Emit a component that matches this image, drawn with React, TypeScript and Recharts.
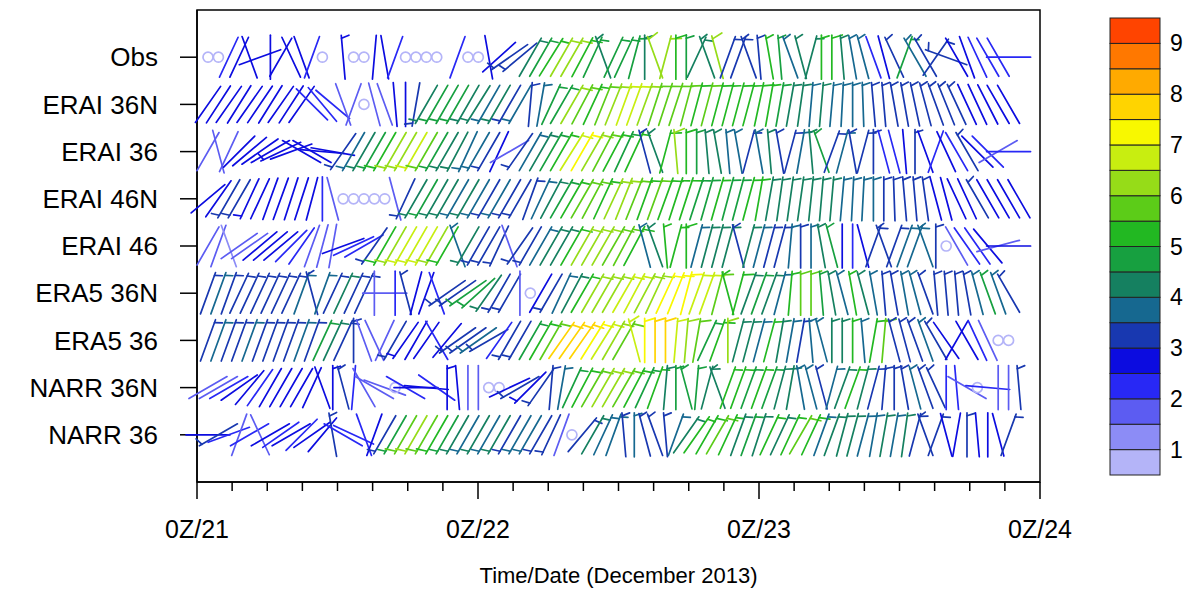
import React from 'react';
import { ScatterChart, Scatter, XAxis, YAxis, ReferenceArea } from 'recharts';

type B = [number, number] | null; // [direction wind comes from (deg), speed]; speed 0 = calm

const ROW_LABELS = ['Obs', 'ERAI 36N', 'ERAI 36', 'ERAI 46N', 'ERAI 46', 'ERA5 36N', 'ERA5 36', 'NARR 36N', 'NARR 36'];
const ROW_VALUES = [9, 8, 7, 6, 5, 4, 3, 2, 1];
const X_TICKS = [0, 24, 48, 72];
const X_LABELS = ['0Z/21', '0Z/22', '0Z/23', '0Z/24'];
const MINOR_TICKS = [0, 3, 6, 9, 12, 15, 18, 21, 24, 27, 30, 33, 36, 39, 42, 45, 48, 51, 54, 57, 60, 63, 66, 69, 72];
const LEVELS = [1, 1.5, 2, 2.5, 3, 3.5, 4, 4.5, 5, 5.5, 6, 6.5, 7, 7.5, 8, 8.5, 9];
const COLORS = ['#b4b4f8', '#8c8cf6', '#5c5cf2', '#2828f5', '#0c0ce0', '#1838b0', '#166890', '#158060', '#17a040', '#22b822', '#5ccc18', '#96dc18', '#c8ee10', '#f8f800', '#ffd400', '#ffaa00', '#ff7800', '#ff4400'];
const START_HOUR = 0.94;
const STEP_HOUR = 0.888;

const OBS: B[] = [
  [0,0],[0,0],[205,2.2],[25,2.8],[340,2.8],[250,2.6],[0,2.7],[210,2.8],[335,2.7],[340,2.5],
  [200,2.0],[0,0],null,[355,2.9],[0,0],[0,0],[5,2.8],[170,2.5],[20,2.0],[0,0],
  [0,0],[0,0],[0,0],null,[200,2.3],[0,0],[0,0],[350,2.5],[228,2.8],[235,3.0],
  [230,3.2],[30,4.2],[30,4.5],[32,5.0],[30,6.2],[30,6.0],[28,5.2],[25,4.8],[340,4.3],[25,4.5],
  [25,4.7],[15,4.5],[0,4.2],[340,6.2],[15,6.0],[0,5.3],[0,4.6],[25,4.3],[340,4.0],[345,6.3],
  [20,3.0],[20,3.3],[340,3.0],[355,3.2],[350,5.0],[355,4.5],[340,3.5],[345,4.0],[15,4.4],[0,5.0],
  [0,5.3],[355,4.2],[350,3.5],[345,3.6],[340,2.3],[345,2.5],[335,3.0],[20,4.5],[330,3.5],[330,3.3],
  [35,3.2],[290,3.0],[330,2.5],[340,2.5],[335,2.2],[330,2.0],[330,2.0],[270,2.3],null,null,
];
const ERAI_36N: B[] = [
  [215,2.6],[213,2.7],[215,2.6],[212,2.7],[215,2.8],[214,2.7],[212,2.6],[215,2.7],[213,2.6],[215,2.7],
  [315,2.3],[320,2.2],[310,2.0],[340,1.9],[200,1.6],[0,0],[345,1.8],[340,1.7],[355,2.5],[0,2.7],
  [190,3.2],[210,4.0],[210,4.8],[210,4.5],[210,4.8],[210,4.3],[212,4.0],[210,3.8],[210,4.0],[210,3.2],
  [210,3.9],[5,3.3],[10,3.8],[25,4.6],[30,4.5],[30,6.2],[28,5.5],[25,5.0],[22,5.5],[22,6.0],
  [20,6.8],[20,6.5],[20,6.0],[18,5.6],[18,5.6],[18,5.8],[15,5.5],[15,5.3],[15,5.5],[15,5.2],
  [15,5.0],[15,5.2],[15,5.0],[12,5.3],[10,5.0],[10,4.6],[10,4.3],[8,4.2],[5,3.8],[5,4.0],
  [5,3.8],[3,3.6],[0,3.5],[358,3.6],[355,3.4],[355,3.3],[350,3.4],[350,3.2],[348,3.1],[345,3.2],
  [340,3.3],[338,3.0],[335,3.0],[335,2.8],[335,2.7],[333,2.6],[330,2.6],[330,2.5],null,null,
];
const ERAI_36: B[] = [
  [210,1.8],[345,1.7],[205,1.9],[225,2.5],[230,2.7],[235,2.8],[240,2.7],[245,2.9],[250,2.8],[300,2.6],
  [300,2.5],[275,2.5],[280,2.8],[215,3.2],[210,3.6],[210,4.2],[210,4.6],[210,5.2],[210,6.0],[210,6.3],
  [210,6.7],[210,5.6],[210,4.6],[210,4.2],[208,4.0],[205,3.8],[210,3.5],[210,3.2],[205,2.8],[240,1.8],
  [215,3.0],[30,3.6],[30,4.0],[30,4.5],[30,5.0],[32,6.5],[30,7.0],[30,6.3],[28,5.6],[28,5.3],
  [25,4.8],[25,5.0],[345,3.3],[340,4.2],[15,5.2],[355,6.2],[0,5.2],[0,4.5],[355,4.2],[350,4.3],
  [355,3.9],[350,3.5],[15,3.2],[350,3.6],[355,4.0],[350,3.3],[15,3.2],[10,3.5],[355,4.0],[340,4.6],
  [20,3.2],[15,3.5],[350,3.4],[15,3.0],[0,3.0],[345,2.2],[345,2.3],[355,2.6],[0,3.2],[340,2.8],
  [20,2.2],[335,2.5],[330,2.0],[330,3.0],[315,2.5],[315,2.4],[240,1.8],[270,2.4],null,null,
];
const ERAI_46N: B[] = [
  [230,2.6],[215,2.8],[210,3.0],[210,3.0],[205,2.9],[205,2.8],[200,2.8],[200,2.8],[198,2.7],[198,2.7],
  [195,2.6],[0,2.0],[345,1.6],[0,0],[0,0],[0,0],[0,0],[0,0],[345,1.8],[205,3.2],
  [210,4.4],[210,4.6],[210,4.3],[210,4.0],[210,3.8],[210,4.0],[210,3.7],[210,3.4],[210,3.6],[210,3.3],
  [210,3.0],[20,3.2],[25,3.6],[28,4.0],[30,4.5],[30,5.0],[30,5.8],[28,5.5],[25,5.2],[25,6.0],
  [22,6.3],[22,5.7],[20,5.4],[20,5.6],[20,5.3],[18,5.0],[18,5.2],[18,4.8],[16,4.6],[16,5.0],
  [15,4.7],[15,4.6],[15,5.0],[10,5.0],[10,4.3],[8,4.2],[8,4.0],[8,4.1],[6,4.4],[5,4.2],
  [5,4.0],[5,3.8],[3,3.7],[3,3.9],[0,3.5],[0,3.4],[358,3.3],[355,3.2],[355,3.1],[352,3.0],
  [345,2.7],[345,2.8],[335,2.6],[335,2.7],[330,3.0],[330,2.8],[330,2.6],[330,2.8],[330,2.6],null,
];
const ERAI_46: B[] = [
  [210,1.5],[200,1.5],[340,1.4],[235,1.6],[235,1.8],[230,2.5],[230,2.8],[230,2.6],[225,2.3],[215,2.2],
  [200,1.8],[195,1.7],[190,1.8],[250,2.5],[245,2.0],[240,2.3],[215,3.0],[210,5.2],[210,6.2],[210,6.5],
  [210,6.8],[210,6.9],[210,6.4],[210,5.3],[340,3.5],[210,4.2],[210,3.2],[210,3.0],[205,3.0],[340,1.8],
  [215,3.0],[210,3.1],[30,3.8],[30,4.2],[30,4.3],[30,5.3],[30,6.0],[30,6.2],[30,6.0],[30,5.8],
  [28,5.5],[28,5.3],[345,3.6],[340,4.3],[355,5.0],[15,5.0],[0,5.3],[15,3.9],[15,4.2],[15,4.0],
  [15,4.4],[345,3.4],[15,4.0],[15,3.8],[15,3.4],[15,3.3],[5,3.7],[0,3.3],[0,3.8],[350,4.3],
  [345,4.6],[0,2.8],[0,2.4],[345,2.8],[20,3.2],[340,3.3],[20,3.2],[20,3.6],[20,3.8],[340,3.5],
  [0,3.2],[0,0],[330,1.8],[325,2.2],[325,2.4],[320,2.6],[255,1.8],[270,2.5],null,null,
];
const ERA5_36N: B[] = [
  [20,3.3],[20,3.6],[20,3.2],[25,3.3],[25,3.3],[25,3.4],[25,3.3],[25,3.2],[25,3.2],[20,3.5],
  [345,3.2],[20,3.8],[25,3.3],[25,4.3],[25,3.2],[25,3.2],[0,1.8],[270,1.6],[0,2.0],[345,3.0],
  [15,2.7],[20,2.6],[340,2.2],[235,3.2],[235,3.4],[235,4.5],[228,4.5],[215,4.2],[210,3.3],[210,3.0],
  [0,1.8],[0,0],[210,2.8],[210,3.1],[25,3.8],[28,4.3],[30,5.0],[30,6.0],[30,6.2],[30,6.3],
  [30,6.5],[28,6.8],[28,6.4],[25,6.3],[25,7.0],[22,7.2],[15,7.3],[20,6.8],[20,6.6],[15,5.5],
  [345,5.0],[15,5.2],[20,4.3],[20,4.5],[20,4.3],[15,3.7],[5,5.0],[0,5.8],[0,5.5],[355,4.5],
  [350,4.2],[345,3.7],[350,5.0],[345,4.3],[350,3.5],[355,3.4],[350,3.4],[350,3.8],[345,3.5],[340,3.4],
  [355,3.4],[355,3.3],[355,3.3],[350,3.3],[345,3.8],[340,4.5],[340,3.5],[330,3.3],null,null,
];
const ERA5_36: B[] = [
  [20,3.3],[20,3.8],[20,3.3],[20,3.3],[20,3.5],[20,3.3],[20,3.3],[20,3.2],[20,3.3],[20,3.6],
  [20,3.3],[25,4.5],[25,4.0],[25,3.2],[0,3.0],[340,1.8],[335,1.6],[205,1.8],[210,3.0],[215,2.9],
  [210,2.7],[215,2.8],[330,2.0],[220,2.6],[235,3.2],[235,3.3],[235,3.5],[240,3.0],[215,2.2],[210,3.0],
  [210,3.2],[30,4.5],[30,5.2],[30,5.5],[35,7.8],[35,7.6],[35,7.5],[32,7.2],[32,6.8],[30,6.0],
  [30,5.8],[345,6.5],[0,7.2],[0,7.8],[0,7.5],[5,6.5],[5,6.0],[10,5.8],[25,4.5],[20,5.2],
  [0,6.3],[15,4.3],[15,4.2],[15,3.8],[15,5.0],[10,4.3],[10,3.5],[10,3.4],[355,3.8],[345,3.5],
  [0,4.0],[0,4.3],[0,5.0],[355,3.5],[10,5.3],[5,5.5],[345,3.3],[345,3.2],[340,3.3],[340,3.8],
  [330,3.2],[325,2.6],[30,2.8],[330,2.8],[335,2.0],[335,1.8],[0,0],[0,0],null,null,
];
const NARR_36N: B[] = [
  [240,1.5],[240,1.6],[240,2.0],[235,2.6],[220,2.7],[215,2.4],[210,2.6],[210,2.5],[210,2.6],[210,2.7],
  [205,2.8],[340,2.8],[0,2.9],[345,3.0],[5,2.0],[330,1.8],[300,1.6],[290,1.6],[0,0],[300,2.0],
  [270,2.8],[275,2.6],[305,2.0],[0,2.9],[355,2.8],[0,1.8],[0,1.8],[0,0],[0,0],[245,2.8],
  [240,3.0],[225,2.9],[215,3.2],[5,3.2],[10,3.5],[25,4.5],[28,5.2],[30,5.8],[30,6.0],[30,6.0],
  [30,5.6],[28,5.3],[25,4.8],[20,5.0],[5,4.2],[0,4.8],[345,4.5],[5,4.6],[15,4.3],[340,4.2],
  [20,5.0],[20,5.2],[20,4.6],[20,5.0],[20,4.5],[15,4.0],[10,4.1],[350,3.6],[345,3.9],[345,3.4],
  [15,3.5],[20,4.2],[20,5.0],[15,4.3],[15,3.4],[5,3.3],[0,3.4],[350,3.2],[345,3.6],[340,3.3],
  [335,3.0],[0,2.2],[355,2.4],[300,1.8],[0,0],[275,2.3],[0,1.8],[0,1.8],[355,3.0],null,
];
const NARR_36: B[] = [
  [270,2.6],[240,3.0],[250,2.4],[200,1.8],[240,2.0],[335,1.8],[240,2.6],[235,2.4],[240,2.5],[225,2.3],
  [235,2.6],[220,2.8],[350,3.2],[300,2.0],[295,2.2],[340,2.3],[200,2.8],[210,3.4],[210,4.8],[210,5.8],
  [210,6.2],[210,5.5],[210,5.2],[210,4.5],[210,4.0],[210,3.6],[210,4.0],[210,3.8],[210,4.0],[210,3.3],
  [210,3.8],[210,3.5],[210,3.3],[205,3.0],[200,1.8],[0,0],[40,3.2],[30,4.2],[25,3.8],[20,3.5],
  [355,3.2],[0,3.8],[345,3.3],[340,3.0],[355,3.2],[20,3.6],[35,4.0],[35,5.0],[30,5.3],[30,5.5],
  [25,5.0],[20,4.4],[20,4.6],[18,4.2],[25,5.0],[25,4.4],[25,5.0],[30,5.7],[25,5.2],[20,3.8],
  [20,4.2],[15,4.2],[15,4.3],[15,3.8],[10,3.5],[10,4.0],[10,3.7],[8,4.1],[15,3.4],[340,3.3],
  [20,3.0],[345,2.8],[10,2.6],[0,3.0],[355,2.5],[0,2.6],[345,2.8],[20,3.2],null,null,
];

const ROWS: B[][] = [OBS, ERAI_36N, ERAI_36, ERAI_46N, ERAI_46, ERA5_36N, ERA5_36, NARR_36N, NARR_36];

const FONT = '"Liberation Sans", Arial, Helvetica, sans-serif';

function colorFor(s: number): string {
  let k = 0;
  for (const l of LEVELS) if (s >= l) k++;
  return COLORS[k];
}

const Barb = (props: any) => {
  const { cx, cy, payload } = props;
  if (cx == null || cy == null || !payload) return <g />;
  const dir: number = payload.dir;
  const spd: number = payload.spd;
  if (spd === 0) {
    return <circle cx={cx} cy={cy} r={5} fill="none" stroke={COLORS[0]} strokeWidth={1.7} />;
  }
  const th = (dir * Math.PI) / 180;
  const ux = Math.sin(th);
  const uy = -Math.cos(th);
  const half = 22;
  const tx = cx + ux * half;
  const ty = cy + uy * half;
  const hx = cx - ux * half;
  const hy = cy - uy * half;
  const col = colorFor(spd);
  let feather: React.ReactNode = null;
  if (spd >= 2.9) {
    const len = spd >= 5.1 ? 11 : 8;
    const px = Math.cos(th);
    const py = Math.sin(th);
    const tilt = 0.3;
    const fx = px * Math.cos(tilt) + ux * Math.sin(tilt);
    const fy = py * Math.cos(tilt) + uy * Math.sin(tilt);
    const bx = tx - ux * 3;
    const by = ty - uy * 3;
    feather = <line x1={bx} y1={by} x2={bx + fx * len} y2={by + fy * len} stroke={col} strokeWidth={1.7} strokeLinecap="round" />;
  }
  return (
    <g>
      <line x1={hx} y1={hy} x2={tx} y2={ty} stroke={col} strokeWidth={1.7} strokeLinecap="round" />
      {feather}
    </g>
  );
};

const XTick = (props: any) => {
  const { x, y, payload } = props;
  const v = payload.value as number;
  const idx = X_TICKS.indexOf(v);
  const major = idx >= 0;
  return (
    <g>
      <line x1={x} x2={x} y1={y} y2={y + (major ? 17 : 9)} stroke="#000" strokeWidth={1.5} />
      {major && (
        <text x={x} y={y + 56} textAnchor="middle" fontSize={25} fontFamily={FONT} fill="#000">
          {X_LABELS[idx]}
        </text>
      )}
    </g>
  );
};

const ColorBar = () => {
  const h = 457 / COLORS.length;
  const top = 2;
  return (
    <svg width={86} height={472} style={{ position: 'absolute', left: 1100, top: 8 }}>
      {COLORS.map((c, k) => (
        <rect key={k} x={2} y={top + (COLORS.length - 1 - k) * h} width={50} height={h} fill={c} stroke="#222" strokeWidth={1} />
      ))}
      {LEVELS.map((l, i) =>
        Number.isInteger(l) ? (
          <text key={i} x={62} y={top + (COLORS.length - 1 - i) * h} dominantBaseline="central" fontSize={23} fontFamily={FONT} fill="#000">
            {l}
          </text>
        ) : null
      )}
    </svg>
  );
};

export default function App() {
  const series = ROWS.map((row, r) =>
    row
      .map((b, i) => (b ? { t: START_HOUR + i * STEP_HOUR, y: ROW_VALUES[r], dir: b[0], spd: b[1] } : null))
      .filter((p) => p !== null)
  );
  return (
    <div style={{ position: 'relative', width: 1186, height: 580, fontFamily: FONT }}>
      <ScatterChart width={1186} height={580} margin={{ top: 2, right: 154, bottom: 0, left: 69 }}>
        <XAxis
          type="number"
          dataKey="t"
          domain={[0, 72]}
          ticks={MINOR_TICKS}
          interval={0}
          tickSize={0}
          tickMargin={0}
          tickLine={false}
          tick={(p: any) => <XTick {...p} />}
          height={106}
          axisLine={{ stroke: '#000', strokeWidth: 1.5 }}
          label={{ value: 'Time/Date (December 2013)', position: 'insideBottom', offset: 5, fontSize: 22, fill: '#000', fontFamily: FONT }}
        />
        <YAxis
          type="number"
          dataKey="y"
          domain={[0, 10]}
          ticks={ROW_VALUES}
          interval={0}
          width={120}
          tickSize={17}
          tickMargin={22}
          tickFormatter={(v: number) => ROW_LABELS[ROW_VALUES.indexOf(v)]}
          tick={{ fontSize: 26, fill: '#000', fontFamily: FONT }}
          axisLine={{ stroke: '#000', strokeWidth: 1.5 }}
          tickLine={{ stroke: '#000', strokeWidth: 1.5 }}
        />
        <ReferenceArea x1={0} x2={72} y1={0} y2={10} fill="none" stroke="#000" strokeWidth={1.5} />
        {series.map((data, r) => (
          <Scatter key={r} name={ROW_LABELS[r]} data={data} isAnimationActive={false} shape={(p: any) => <Barb {...p} />} />
        ))}
      </ScatterChart>
      <ColorBar />
    </div>
  );
}
